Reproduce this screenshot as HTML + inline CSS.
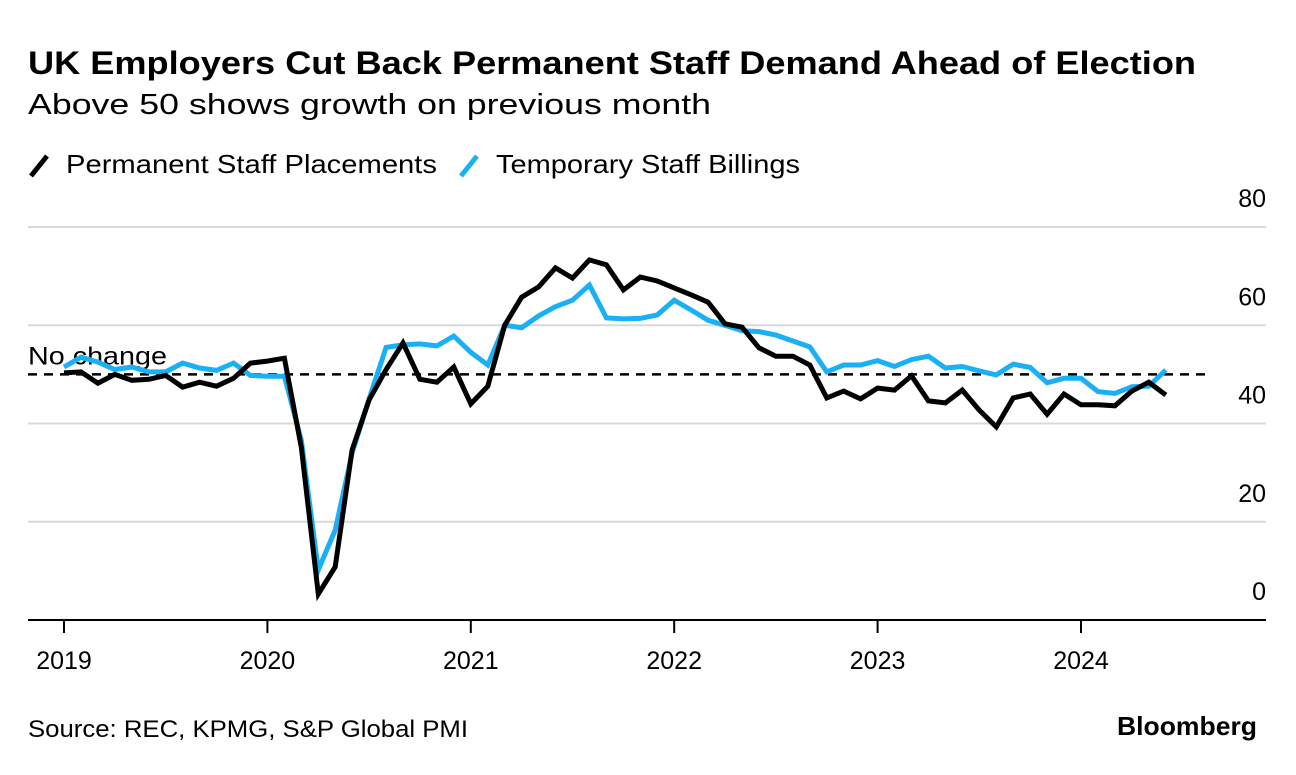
<!DOCTYPE html>
<html><head><meta charset="utf-8"><style>
body{margin:0;background:#fff;font-family:"Liberation Sans",sans-serif;}
svg text{font-family:"Liberation Sans",sans-serif;}
</style></head><body>
<svg id="chart" width="1296" height="770" xmlns="http://www.w3.org/2000/svg">
<text x="28" y="74" font-size="32" font-weight="bold" fill="#000" textLength="1168" lengthAdjust="spacingAndGlyphs">UK Employers Cut Back Permanent Staff Demand Ahead of Election</text>
<text x="28" y="114" font-size="29" fill="#000" textLength="683" lengthAdjust="spacingAndGlyphs">Above 50 shows growth on previous month</text>
<g>
<line x1="31" y1="176" x2="47" y2="156" stroke="#000" stroke-width="5"/>
<text x="66" y="173" font-size="26" textLength="371" lengthAdjust="spacingAndGlyphs">Permanent Staff Placements</text>
<line x1="461" y1="176" x2="477" y2="156" stroke="#1ab0f5" stroke-width="5"/>
<text x="496" y="173" font-size="26" textLength="304" lengthAdjust="spacingAndGlyphs">Temporary Staff Billings</text>
</g>
<g id="grid"></g>
<g id="lines"></g>
<g id="xaxis"></g>
<text x="28" y="737" font-size="24" textLength="440" lengthAdjust="spacingAndGlyphs">Source: REC, KPMG, S&amp;P Global PMI</text>
<text x="1117" y="735" font-size="26" font-weight="bold" textLength="140" lengthAdjust="spacingAndGlyphs">Bloomberg</text>
</svg>
<script>
const yTicks=[0,20,40,60,80];
const yearLabels=["2019","2020","2021","2022","2023","2024"];
const permanent=[50.3,50.5,48.2,50,48.8,49,49.8,47.4,48.4,47.6,49.2,52.3,
52.7,53.3,35.2,5.3,10.8,34.6,44.8,51,56.4,49,48.4,51.5,
44,47.6,60,65.7,67.8,71.7,69.6,73.3,72.3,67.2,69.8,69,
67.6,66.2,64.7,60.3,59.6,55.4,53.7,53.7,51.9,45.2,46.6,45,
47.2,46.8,49.7,44.6,44.2,46.8,42.7,39.3,45.2,46,41.9,46,
43.8,43.8,43.6,46.6,48.4,45.8];
const temporary=[51.5,53.5,52.5,51,51.5,50.5,50.5,52.3,51.3,50.8,52.3,49.8,
49.6,49.6,36.6,10.2,18.3,34,45,55.5,56,56.2,55.8,57.8,
54.5,51.9,60,59.5,61.9,63.8,65.1,68.2,61.5,61.3,61.4,62.1,
65.1,63.1,61,60,58.9,58.7,58,56.8,55.6,50.5,51.9,51.9,
52.8,51.6,53,53.7,51.3,51.6,50.7,49.9,52.1,51.4,48.3,49.2,
49.2,46.5,46.1,47.5,47.6,50.9];
const noChange=50;
const NS="http://www.w3.org/2000/svg";
const x0=64, pxPerMonth=16.95, yBase=620, pxPerUnit=4.9125;
const X=i=>x0+i*pxPerMonth;
const Y=v=>yBase-v*pxPerUnit;
function mk(tag,attrs,parent){const e=document.createElementNS(NS,tag);for(const k in attrs)e.setAttribute(k,attrs[k]);parent.appendChild(e);return e;}
const grid=document.getElementById('grid');
yTicks.forEach(t=>{
  if(t>0){const l=mk('line',{x1:28,x2:1266,y1:Y(t),y2:Y(t),stroke:'#d9d9d9','stroke-width':2},grid);
  
  }
  const tx=mk('text',{x:1266,y:Y(t)-20,'font-size':25,'text-anchor':'end'},grid);
  tx.textContent=t;
  
  
});
const nc=mk('line',{x1:28,x2:1206,y1:Y(noChange),y2:Y(noChange),stroke:'#000','stroke-width':2.5,'stroke-dasharray':'9 7'},grid);


const nct=mk('text',{x:28,y:Y(noChange)-10,'font-size':25,textLength:139,lengthAdjust:'spacingAndGlyphs'},grid);
nct.textContent='No change';


const lines=document.getElementById('lines');
function path(arr){return arr.map((v,i)=>(i?'L':'M')+X(i).toFixed(1)+','+Y(v).toFixed(1)).join('');}
const tp=mk('path',{d:path(temporary),fill:'none',stroke:'#1ab0f5','stroke-width':5,'stroke-linejoin':'miter'},lines);


const pp=mk('path',{d:path(permanent),fill:'none',stroke:'#000','stroke-width':5,'stroke-linejoin':'miter'},lines);


const xa=document.getElementById('xaxis');
const ax=mk('line',{x1:28,x2:1266,y1:yBase,y2:yBase,stroke:'#000','stroke-width':2},xa);


yearLabels.forEach((yl,k)=>{
  const xx=X(k*12);
  const tk=mk('line',{x1:xx,x2:xx,y1:yBase,y2:yBase+13,stroke:'#000','stroke-width':2},xa);
  
  
  const t=mk('text',{x:xx,y:669,'font-size':25,'text-anchor':'middle'},xa);
  t.textContent=yl;
  
  
});
</script>
</body></html>
